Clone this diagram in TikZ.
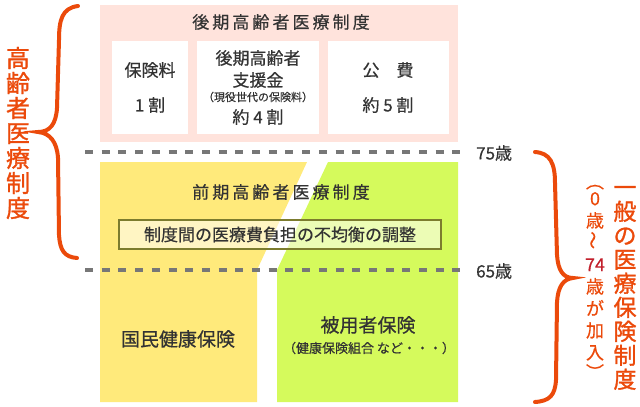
\documentclass[tikz,border=0pt]{standalone}
\usepackage{fontspec}
\setmainfont[FakeBold=0.5,AutoFakeBold=0.5]{Noto Sans CJK JP}
\newfontfamily\jpwide[LetterSpace=18,FakeBold=0.5]{Noto Sans CJK JP}
\newfontfamily\jpbold[FakeBold=1.2]{Noto Sans CJK JP}
\usepackage{xcolor}
\usepackage{tikz}

\definecolor{sumi}{HTML}{333333}
\definecolor{kobeni}{HTML}{EB4A0B}
\definecolor{enji}{HTML}{C2202C}
\definecolor{momo}{HTML}{FFE3DC}
\definecolor{kiiro}{HTML}{FFEA7B}
\definecolor{midori}{HTML}{D5FA5C}
\definecolor{nezumi}{HTML}{777777}
\definecolor{kusa}{HTML}{7C7C2E}
\newcommand{\fs}[2]{\fontsize{#1}{#2}\selectfont}

\begin{document}
\begin{tikzpicture}[x=1pt,y=-1pt,
	txt/.style={text=sumi,inner sep=0pt,font=\fs{17}{20}},
	dashline/.style={line width=4pt,draw=nezumi,dash pattern=on 8pt off 8.7pt},
	braceline/.style={line width=4pt,draw=kobeni,line cap=round}]
	\useasboundingbox (0,0) rectangle (640,407);

	% upper block
	\fill[momo] (100,5) rectangle (458,142);
	\fill[white] (112,41) rectangle (188,134);
	\fill[white] (197,41) rectangle (319,134);
	\fill[white] (328,41) rectangle (449,134);

	% lower blocks
	\fill[kiiro] (100,162) -- (307,162) -- (257,270) -- (257,402) -- (100,402) -- cycle;
	\fill[midori] (328,162) -- (458,162) -- (458,402) -- (277,402) -- (277,270) -- cycle;

	\draw[dashline] (85,152) -- (463,152);
	\draw[dashline] (85,270) -- (463,270);

	\node[txt,font=\jpwide\fs{17}{20}] (kouki) at (281,22) {後期高齢者医療制度};
	\node[txt] (hokenryo) at (150,70) {保険料};
	\node[txt] (ichiwari) at (150,105) {1 割};
	\node[txt] (shien1) at (258,58) {後期高齢者};
	\node[txt] (shien2) at (258,80) {支援金};
	\node[txt,font=\fs{11}{12}] (genneki) at (258,97) {（現役世代の保険料）};
	\node[txt] (yonwari) at (258,117) {約 4 割};
	\node[txt] (kouhi) at (388,70) {公\hspace{1em}費};
	\node[txt] (gowari) at (388,105) {約 5 割};

	\node[txt,font=\jpwide\fs{17}{20}] (zenki) at (281,192) {前期高齢者医療制度};
	\node[txt,draw=kusa,line width=1.2pt,fill=white,fill opacity=0.55,text opacity=1,
		minimum width=322pt,minimum height=29pt] (chosei) at (280,234.5) {制度間の医療費負担の不均衡の調整};

	\node[txt,font=\fs{19}{22}] (kokuho) at (178,339) {国民健康保険};
	\node[txt,font=\fs{19}{22}] (hiyousha) at (368,325) {被用者保険};
	\node[txt,font=\fs{13}{15}] (kumiai) at (369,348) {（健康保険組合 など・・・）};

	\node[txt,anchor=west] (age75) at (476,153) {75歳};
	\node[txt,anchor=west] (age65) at (476,271) {65歳};

	% braces
	\draw[braceline] (78,6) .. controls (62,8) and (59,20) .. (59,40) -- (57,108)
		.. controls (56,124) and (50,132) .. (38,132)
		.. controls (50,133) and (57,142) .. (58,158) -- (59,235)
		.. controls (60,250) and (64,257) .. (77,258);
	\draw[braceline] (535,152) .. controls (550,153) and (555,163) .. (555,183) -- (557,255)
		.. controls (558,270) and (563,278) .. (573,278)
		.. controls (563,279) and (558,287) .. (557,302) -- (556,380)
		.. controls (555,395) and (550,401) .. (535,402);

	\node[text=kobeni,font=\jpbold\fs{24}{25},align=center,inner sep=0pt] (koureisha) at (18,133)
		{高\\齢\\者\\医\\療\\制\\度};
	\node[text=kobeni,font=\jpbold\fs{23}{24},align=center,inner sep=0pt] (ippan) at (625,288)
		{一\\般\\の\\医\\療\\保\\険\\制\\度};
	\node[text=kobeni,font=\fs{18}{22},align=center,inner sep=0pt] (kanyu) at (595,282)
		{︵\\[-5pt]0\\歳\\\rotatebox{90}{～}\\\textcolor{enji}{74}\\歳\\が\\加\\入\\[-2pt]︶};
\end{tikzpicture}
\end{document}
